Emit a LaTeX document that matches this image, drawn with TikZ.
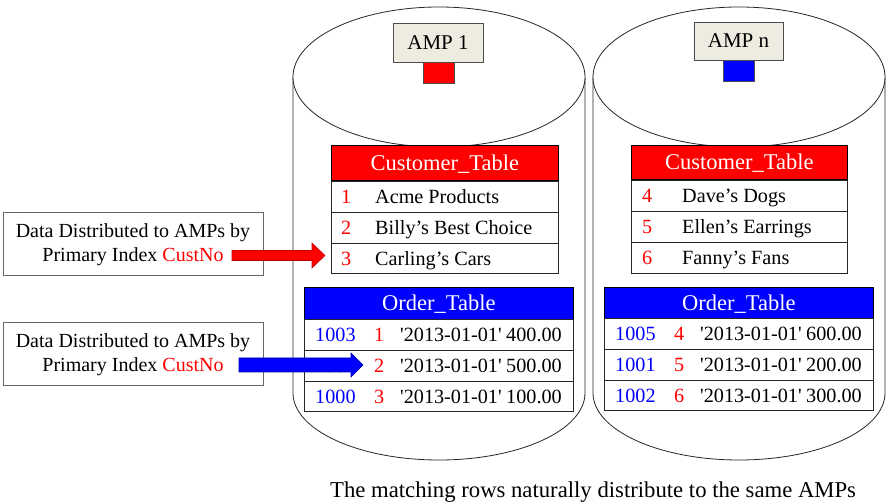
\documentclass[tikz,border=0pt]{standalone}
\usepackage{fontspec}
\setmainfont{Liberation Serif}
\newfontfamily\rawserif{Liberation Serif}
\definecolor{ampbg}{HTML}{EEECE1}
\definecolor{myred}{HTML}{FF0000}
\definecolor{myblue}{HTML}{0000FF}
\begin{document}
\begin{tikzpicture}[x=1pt,y=-1pt,
  cyl/.style={draw=black!85,line width=0.8pt,fill=white},
  ampbox/.style={draw=black!70,fill=ampbg,line width=0.8pt,minimum width=90pt,minimum height=39pt,inner sep=0pt,text height=14pt,text depth=0pt,font=\fontsize{21}{24}\selectfont},
  ampsq/.style={draw=black!70,line width=0.6pt,minimum width=31pt,minimum height=21pt,inner sep=0pt},
  hdr/.style={draw=black,line width=0.8pt,inner sep=0pt,text=white,text height=15pt,text depth=0pt,font=\fontsize{22.5}{26}\selectfont},
  rowbox/.style={draw=black!85,line width=0.9pt,fill=white,inner sep=0pt,anchor=north west},
  txt/.style={inner sep=0pt,anchor=west,text height=13.3pt,text depth=0pt,font=\fontsize{20.2}{23}\selectfont},
  note/.style={draw=black!60,line width=0.8pt,fill=white,minimum width=260pt,minimum height=63pt,inner sep=0pt,align=center,font=\fontsize{20}{24}\selectfont},
  blk/.style={line width=0.6pt}
]
\useasboundingbox (0,0) rectangle (886,502);
% cylinders
\draw[cyl] (293,77) -- (293,393) arc[start angle=180,end angle=360,x radius=146pt,y radius=67pt] -- (585,77);
\draw[cyl] (439,77) ellipse[x radius=146pt,y radius=70pt];
\draw[cyl] (593,77) -- (593,393) arc[start angle=180,end angle=360,x radius=146pt,y radius=67pt] -- (885,77);
\draw[cyl] (739,77) ellipse[x radius=146pt,y radius=70pt];
% AMP boxes
\node[ampbox] (amp1) at (438,42.5) {AMP 1};
\node[ampsq,fill=myred,anchor=north] (sq1) at (438.5,62) {};
\node[ampbox,minimum width=89pt,minimum height=38pt] (ampn) at (738.5,41) {AMP n};
\node[ampsq,fill=myblue,anchor=north] (sqn) at (738.5,60) {};
% Customer table left
\node[hdr,fill=myred,minimum width=227pt,minimum height=35pt,anchor=north west] (ct1) at (331,145) {Customer\_Table};
\node[rowbox,minimum width=227pt,minimum height=31pt] (c1a) at (331,181) {};
\node[rowbox,minimum width=227pt,minimum height=31pt] (c1b) at (331,212) {};
\node[rowbox,minimum width=227pt,minimum height=30pt] (c1c) at (331,243) {};
\node[txt,text=myred] at ([xshift=10pt]c1a.west) {1};
\node[txt] at ([xshift=44pt]c1a.west) {Acme Products};
\node[txt,text=myred] at ([xshift=10pt]c1b.west) {2};
\node[txt] at ([xshift=44pt]c1b.west) {Billy’s Best Choice};
\node[txt,text=myred] at ([xshift=10pt]c1c.west) {3};
\node[txt] at ([xshift=44pt]c1c.west) {Carling’s Cars};
% Customer table right
\node[hdr,fill=myred,minimum width=216pt,minimum height=34pt,anchor=north west] (ct2) at (631,145) {Customer\_Table};
\node[rowbox,minimum width=216pt,minimum height=31pt] (c2a) at (631,180) {};
\node[rowbox,minimum width=216pt,minimum height=31pt] (c2b) at (631,211) {};
\node[rowbox,minimum width=216pt,minimum height=31pt] (c2c) at (631,242) {};
\node[txt,text=myred] at ([xshift=11pt]c2a.west) {4};
\node[txt] at ([xshift=51pt]c2a.west) {Dave’s Dogs};
\node[txt,text=myred] at ([xshift=11pt]c2b.west) {5};
\node[txt] at ([xshift=51pt]c2b.west) {Ellen’s Earrings};
\node[txt,text=myred] at ([xshift=11pt]c2c.west) {6};
\node[txt] at ([xshift=51pt]c2c.west) {Fanny’s Fans};
% Order table left
\node[hdr,fill=myblue,minimum width=269pt,minimum height=32pt,anchor=north west] (ot1) at (304,287) {Order\_Table};
\node[rowbox,minimum width=269pt,minimum height=31pt] (o1a) at (304,319) {};
\node[rowbox,minimum width=269pt,minimum height=31pt] (o1b) at (304,350) {};
\node[rowbox,minimum width=269pt,minimum height=30pt] (o1c) at (304,381) {};
\foreach \r/\id/\n/\amt in {o1a/1003/1/400.00,o1b/1004/2/500.00,o1c/1000/3/100.00}{
  \node[txt,text=myblue] at ([xshift=11pt]\r.west) {\id};
  \node[txt,text=myred] at ([xshift=70pt]\r.west) {\n};
  \node[txt] at ([xshift=96pt]\r.west) {\rawserif '2013-01-01'\hspace{4.5pt}\amt};
}
% Order table right
\node[hdr,fill=myblue,minimum width=269pt,minimum height=31pt,anchor=north west] (ot2) at (604,287) {Order\_Table};
\node[rowbox,minimum width=269pt,minimum height=31pt] (o2a) at (604,318) {};
\node[rowbox,minimum width=269pt,minimum height=31pt] (o2b) at (604,349) {};
\node[rowbox,minimum width=269pt,minimum height=30pt] (o2c) at (604,380) {};
\foreach \r/\id/\n/\amt in {o2a/1005/4/600.00,o2b/1001/5/200.00,o2c/1002/6/300.00}{
  \node[txt,text=myblue] at ([xshift=11pt]\r.west) {\id};
  \node[txt,text=myred] at ([xshift=70pt]\r.west) {\n};
  \node[txt] at ([xshift=96pt]\r.west) {\rawserif '2013-01-01'\hspace{4.5pt}\amt};
}
% notes
\node[note] (n1) at (133,243.5) {\rule{0pt}{17pt}Data Distributed to AMPs by\\Primary Index \textcolor{myred}{CustNo}};
\node[note] (n2) at (133,353.5) {\rule{0pt}{17pt}Data Distributed to AMPs by\\Primary Index \textcolor{myred}{CustNo}};
% arrows
\coordinate (ra0) at (232,255.5);
\coordinate (ra1) at (325,255.5);
\filldraw[blk,fill=myred,draw=myred!75!black]
  ([yshift=-5pt]ra0) -- ([xshift=-13pt,yshift=-5pt]ra1) -- ([xshift=-13pt,yshift=-12.5pt]ra1) -- (ra1)
  -- ([xshift=-13pt,yshift=12.5pt]ra1) -- ([xshift=-13pt,yshift=5pt]ra1) -- ([yshift=5pt]ra0) -- cycle;
\coordinate (ba0) at (239,365);
\coordinate (ba1) at (363,365);
\filldraw[blk,fill=myblue,draw=myblue!70!black]
  ([yshift=-7pt]ba0) -- ([xshift=-12pt,yshift=-7pt]ba1) -- ([xshift=-12pt,yshift=-12pt]ba1) -- (ba1)
  -- ([xshift=-12pt,yshift=12pt]ba1) -- ([xshift=-12pt,yshift=7pt]ba1) -- ([yshift=7pt]ba0) -- cycle;
% caption
\node[inner sep=0pt,anchor=west,text height=15pt,text depth=0pt,font=\fontsize{22.7}{26}\selectfont] (cap) at (330,490) {The matching rows naturally distribute to the same AMPs};
\end{tikzpicture}
\end{document}
